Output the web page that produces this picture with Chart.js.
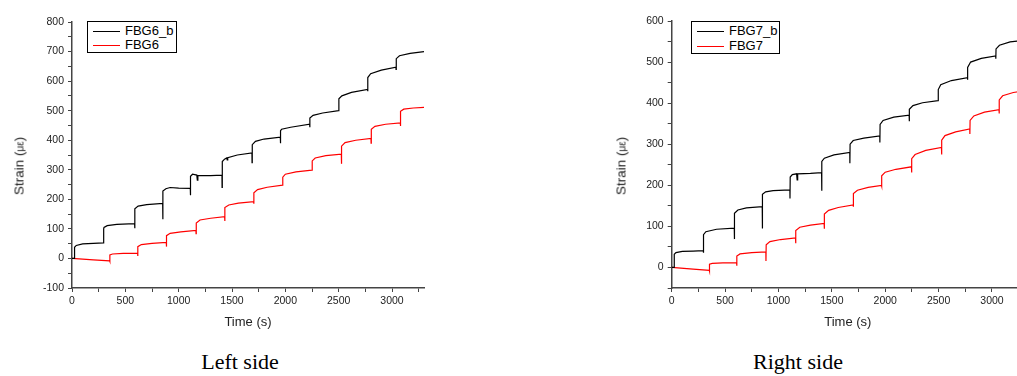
<!DOCTYPE html>
<html>
<head>
<meta charset="utf-8">
<script src="https://cdn.jsdelivr.net/npm/chart.js@4/dist/chart.umd.min.js"></script>
<style>
body { margin: 0; width: 1017px; height: 376px; overflow: hidden; background: #fff; position: relative; font-family: "Liberation Sans", Arial, sans-serif; }
canvas { position: absolute; top: 0; }
#c1 { left: 0; }
#c2 { left: 600px; }
.ytitle { position: absolute; font-size: 13.5px; color: #222; transform: translate(-50%, -50%) rotate(-90deg); white-space: nowrap; }
.ytitle small { font-size: 10px; }
.legend { position: absolute; border: 1px solid #000; background: #fff; box-sizing: border-box; }
.legend div { position: absolute; left: 5px; height: 15px; font-size: 13px; line-height: 15px; color: #000; white-space: nowrap; }
.legend span { display: inline-block; width: 27px; height: 0; border-top: 1.3px solid #000; vertical-align: middle; margin-right: 5px; }
.caption { position: absolute; top: 349px; font-family: "Liberation Serif", "Times New Roman", serif; font-size: 22px; color: #000; transform: translateX(-50%); white-space: nowrap; }
</style>
</head>
<body>
<canvas id="c1" width="430" height="340"></canvas>
<canvas id="c2" width="430" height="340"></canvas>

<div class="ytitle" style="left:19px; top:166px;">Strain (<small>με</small>)</div>
<div class="ytitle" style="left:621px; top:166px;">Strain (<small>με</small>)</div>

<div class="legend" style="left:87px; top:21px; width:90px; height:32px;">
  <div style="top:1px;"><span></span>FBG6_b</div>
  <div style="top:15px;"><span style="border-color:#ff0000"></span>FBG6</div>
</div>
<div class="legend" style="left:691px; top:21px; width:89px; height:33px;">
  <div style="top:1px;"><span></span>FBG7_b</div>
  <div style="top:16px;"><span style="border-color:#ff0000"></span>FBG7</div>
</div>

<div class="caption" style="left:240px;">Left side</div>
<div class="caption" style="left:798px;">Right side</div>

<script>
// tick positions (every tick) and the ones that get a label
var timeTicks = [0, 250, 500, 750, 1000, 1250, 1500, 1750, 2000, 2250, 2500, 2750, 3000, 3250];
var timeLabels = [0, 500, 1000, 1500, 2000, 2500, 3000];
var strainTicksLeft = [-100, -50, 0, 50, 100, 150, 200, 250, 300, 350, 400, 450, 500, 550, 600, 650, 700, 750, 800];
var strainLabelsLeft = [-100, 0, 100, 200, 300, 400, 500, 600, 700, 800];
var strainTicksRight = [-50, 0, 50, 100, 150, 200, 250, 300, 350, 400, 450, 500, 550, 600];
var strainLabelsRight = [0, 100, 200, 300, 400, 500, 600];

// left side, FBG6_b (black)
var fbg6bTime = [0, 22, 24, 40, 100, 200, 296,
    297, 300, 330, 420, 587,
    588, 590, 620, 700, 850,
    851, 853, 880, 920, 1000, 1109,
    1110, 1112, 1130, 1170, 1175, 1180, 1300, 1406,
    1407, 1409, 1430, 1450, 1455, 1460, 1550, 1687,
    1688, 1690, 1720, 1800, 1953,
    1954, 1956, 1965, 2050, 2228,
    2229, 2231, 2260, 2350, 2500,
    2502, 2530, 2620, 2771,
    2772, 2774, 2800, 2900, 3037,
    3038, 3040, 3070, 3170, 3300];
var fbg6bStrain = [0, 0, 38, 44, 49, 51, 53,
    100, 105, 111, 115, 118,
    102, 168, 177, 182, 186,
    133, 228, 236, 240, 238, 237,
    214, 278, 285, 282, 265, 281, 280, 282,
    240, 328, 336, 340, 333, 341, 350, 357,
    324, 385, 396, 404, 410,
    390, 432, 437, 444, 454,
    444, 475, 484, 492, 500,
    540, 550, 562, 572,
    566, 612, 625, 637, 647,
    640, 676, 686, 694, 700];

// left side, FBG6 (red)
var fbg6Time = [0, 200, 353,
    354, 356, 380, 480, 615,
    616, 618, 650, 750, 884,
    885, 887, 920, 1020, 1162,
    1163, 1165, 1200, 1300, 1431,
    1432, 1434, 1470, 1560, 1703,
    1704, 1706, 1740, 1830, 1975,
    1976, 2000, 2100, 2250,
    2252, 2280, 2380, 2525,
    2526, 2528, 2560, 2660, 2803,
    2804, 2806, 2840, 2940, 3078,
    3079, 3081, 3110, 3200, 3300];
var fbg6Strain = [0, -5, -8,
    -10, 12, 15, 17, 18,
    8, 40, 47, 51, 54,
    40, 77, 85, 90, 95,
    84, 120, 130, 136, 141,
    127, 172, 181, 187, 192,
    185, 222, 233, 241, 248,
    275, 285, 293, 299,
    330, 340, 348, 353,
    320, 380, 392, 400, 406,
    390, 437, 447, 454, 459,
    448, 498, 505, 509, 511];

// right side, FBG7_b (black)
var fbg7bTime = [0, 22, 24, 40, 100, 200, 296,
    297, 299, 320, 420, 586,
    587, 589, 620, 700, 848,
    849, 851, 880, 950, 1107,
    1108, 1110, 1130, 1170, 1175, 1180, 1300, 1404,
    1405, 1407, 1430, 1520, 1668,
    1669, 1671, 1700, 1800, 1949,
    1950, 1952, 1980, 2080, 2224,
    2225, 2227, 2260, 2350, 2495,
    2497, 2520, 2620, 2770,
    2771, 2773, 2800, 2900, 3035,
    3036, 3038, 3070, 3170, 3300];
var fbg7bStrain = [0, 0, 32, 36, 39, 40, 41,
    36, 80, 87, 93, 96,
    69, 132, 140, 145, 148,
    95, 178, 184, 187, 189,
    168, 220, 226, 228, 213, 228, 229, 231,
    187, 258, 266, 274, 280,
    254, 300, 309, 315, 320,
    304, 348, 358, 366, 371,
    356, 385, 394, 401, 406,
    433, 445, 455, 462,
    457, 487, 500, 509, 515,
    508, 532, 541, 549, 553];

// right side, FBG7 (red)
var fbg7Time = [0, 200, 352,
    353, 355, 380, 480, 608,
    609, 611, 640, 750, 882,
    883, 885, 920, 1020, 1160,
    1161, 1163, 1200, 1300, 1428,
    1429, 1431, 1470, 1560, 1700,
    1701, 1703, 1740, 1840, 1965,
    1966, 1968, 2000, 2100, 2246,
    2247, 2249, 2280, 2380, 2527,
    2528, 2530, 2560, 2660, 2792,
    2793, 2795, 2830, 2930, 3066,
    3067, 3069, 3100, 3200, 3300];
var fbg7Strain = [0, -4, -7,
    -9, 8, 10, 11, 12,
    4, 28, 33, 36, 38,
    16, 55, 63, 68, 72,
    59, 90, 98, 103, 107,
    94, 130, 139, 146, 152,
    148, 180, 188, 195, 200,
    198, 223, 232, 239, 245,
    231, 265, 275, 285, 292,
    275, 310, 321, 330, 337,
    325, 358, 369, 378, 384,
    375, 408, 418, 426, 430];

var axisColor = '#444';
var textColor = '#222';

function toPoints(times, values){
    var pts = new Array();
    for (var i = 0; i < times.length; i++){
        pts.push({x: times[i], y: values[i]});
    }
    return pts;
}

function setTicks(values){
    return function(scale){
        var t = new Array();
        for (var i = 0; i < values.length; i++){
            t.push({value: values[i]});
        }
        scale.ticks = t;
    };
}

function labelIf(labels){
    return function(v){
        return labels.indexOf(v) >= 0 ? String(v) : '';
    };
}

function makeChart(id, blackT, blackV, redT, redV, yMin, yMax, yTicks, yLabels, yAxisWidth, padTop){
    var ctx = document.getElementById(id).getContext('2d');
    return new Chart(ctx, {
        type: 'line',
        data: {
            datasets: [{
                data: toPoints(blackT, blackV),
                borderColor: '#000',
                borderWidth: 1.2,
                pointRadius: 0,
                tension: 0
            }, {
                data: toPoints(redT, redV),
                borderColor: '#ff0000',
                borderWidth: 1.2,
                pointRadius: 0,
                tension: 0
            }]
        },
        options: {
            responsive: false,
            animation: false,
            layout: { padding: { left: 0, top: padTop, right: 6, bottom: 6 } },
            plugins: { legend: { display: false }, tooltip: { enabled: false } },
            scales: {
                x: {
                    type: 'linear',
                    min: 0,
                    max: 3300,
                    border: { display: true, color: axisColor, width: 1.5 },
                    grid: { drawOnChartArea: false, drawTicks: true, tickLength: 4, color: axisColor },
                    afterBuildTicks: setTicks(timeTicks),
                    ticks: {
                        maxRotation: 0,
                        autoSkip: false,
                        padding: 3,
                        color: textColor,
                        font: { family: 'Liberation Sans', size: 10.5 },
                        callback: labelIf(timeLabels)
                    },
                    title: {
                        display: true,
                        text: 'Time (s)',
                        color: textColor,
                        padding: { top: 6, bottom: 4 },
                        font: { family: 'Liberation Sans', size: 13 }
                    },
                    afterFit: function(s){ s.height = 46; }
                },
                y: {
                    min: yMin,
                    max: yMax,
                    border: { display: true, color: axisColor, width: 1.5 },
                    grid: { drawOnChartArea: false, drawTicks: true, tickLength: 4, color: axisColor },
                    afterBuildTicks: setTicks(yTicks),
                    ticks: {
                        autoSkip: false,
                        padding: 4,
                        color: textColor,
                        font: { family: 'Liberation Sans', size: 10.5 },
                        callback: labelIf(yLabels)
                    },
                    afterFit: function(s){ s.width = yAxisWidth; }
                }
            }
        }
    });
}

var chart1 = makeChart('c1', fbg6bTime, fbg6bStrain, fbg6Time, fbg6Strain, -100, 800,
    strainTicksLeft, strainLabelsLeft, 72, 22);
var chart2 = makeChart('c2', fbg7bTime, fbg7bStrain, fbg7Time, fbg7Strain, -50, 600,
    strainTicksRight, strainLabelsRight, 71.7, 21);
</script>
</body>
</html>
